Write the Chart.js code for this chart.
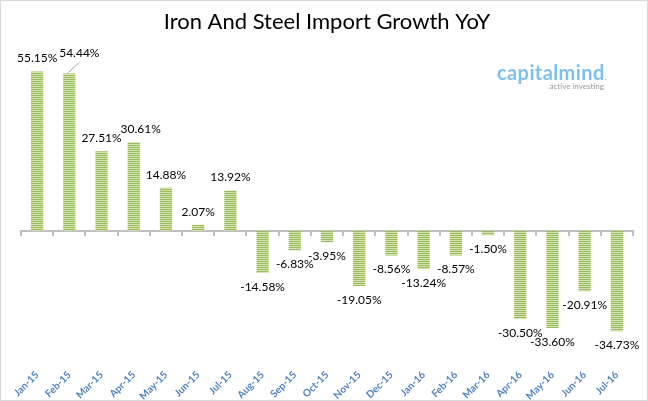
<!DOCTYPE html>
<html lang="en">
<head>
    <meta charset="UTF-8">
    <title>Iron And Steel Import Growth YoY</title>
    <script src="https://cdn.jsdelivr.net/npm/chart.js"></script>
    <style>
        body {
            margin: 0;
            background: #ffffff;
            font-family: 'Lato', sans-serif;
        }

        .chart-box {
            position: relative;
            width: 648px;
            height: 401px;
            box-sizing: border-box;
            border: 1px solid #d9d9d9;
        }

        /* logo in the upper right */
        .logo {
            position: absolute;
            right: 40px;
            top: 61px;
            text-align: right;
            line-height: 1;
        }
        .logo .name {
            font-size: 20px;
            font-weight: bold;
            color: #7fc0f0;
            letter-spacing: 0.4px;
        }
        .logo .name span { color: #9bbb59; font-size: 8px; }
        .logo .tag {
            font-size: 8px;
            color: #9a9a9a;
            margin-right: 3px;
        }
    </style>
</head>
<body>
    <div class="chart-box">
        <canvas id="importChart" width="646" height="399"></canvas>
        <div class="logo">
            <div class="name">capitalmind<span>.</span></div>
            <div class="tag">active investing</div>
        </div>
    </div>

    <script>
        // Months and YoY growth (%)
        const months = ['Jan-15', 'Feb-15', 'Mar-15', 'Apr-15', 'May-15', 'Jun-15', 'Jul-15',
                        'Aug-15', 'Sep-15', 'Oct-15', 'Nov-15', 'Dec-15', 'Jan-16', 'Feb-16',
                        'Mar-16', 'Apr-16', 'May-16', 'Jun-16', 'Jul-16'];
        const growth = [55.15, 54.44, 27.51, 30.61, 14.88, 2.07, 13.92,
                        -14.58, -6.83, -3.95, -19.05, -8.56, -13.24, -8.57,
                        -1.50, -30.50, -33.60, -20.91, -34.73];

        // striped fill like the original bars
        const pc = document.createElement('canvas');
        pc.width = 2;
        pc.height = 2;
        const pctx = pc.getContext('2d');
        pctx.fillStyle = '#d5e4b6';
        pctx.fillRect(0, 0, 2, 2);
        pctx.fillStyle = '#9bbb59';
        pctx.fillRect(0, 0, 2, 1);

        const ctx = document.getElementById('importChart').getContext('2d');
        const stripes = ctx.createPattern(pc, 'repeat');

        // value labels above / below each bar
        const barLabels = {
            id: 'barLabels',
            afterDatasetsDraw(chart, args, opts) {
                const c = chart.ctx;
                const meta = chart.getDatasetMeta(0);
                c.save();
                c.font = '12px Lato';
                c.fillStyle = '#000000';
                c.textAlign = 'center';
                c.textBaseline = 'middle';
                meta.data.forEach((bar, i) => {
                    const v = growth[i];
                    const s = opts.shift[i] || { dx: 0, dy: 0 };
                    const y = (v >= 0 ? bar.y - 13 : bar.y + 14) + s.dy;
                    c.fillText(v.toFixed(2) + '%', bar.x + s.dx, y);
                    if (s.line) {
                        // leader line to a moved label
                        c.strokeStyle = '#a6a6a6';
                        c.lineWidth = 1;
                        c.beginPath();
                        c.moveTo(bar.x - 2, bar.y);
                        c.lineTo(bar.x + s.dx, bar.y - 11);
                        c.stroke();
                    }
                });
                c.restore();
            }
        };

        new Chart(ctx, {
            type: 'bar',
            data: {
                labels: months,
                datasets: [{
                    data: growth,
                    backgroundColor: stripes,
                    borderWidth: 0,
                    barPercentage: 0.38,
                    categoryPercentage: 1
                }]
            },
            options: {
                responsive: false,
                animation: false,
                layout: {
                    padding: { left: 20, right: 14, top: 0, bottom: 0 }
                },
                scales: {
                    x: {
                        grid: { display: false },
                        border: { display: false },
                        ticks: {
                            color: '#4f81bd',
                            font: { family: 'Lato', size: 10, weight: 'bold' },
                            minRotation: 45,
                            maxRotation: 45,
                            padding: 3
                        },
                        afterFit(scale) { scale.height = 42; }
                    },
                    zero: {
                        type: 'category',
                        axis: 'x',
                        position: { y: 0 },
                        grid: {
                            offset: true,
                            drawOnChartArea: false,
                            drawTicks: true,
                            tickLength: 4,
                            color: '#bfbfbf',
                            lineWidth: 2
                        },
                        border: { display: true, color: '#bfbfbf', width: 2 },
                        ticks: { display: false }
                    },
                    y: {
                        display: false,
                        min: -44,
                        max: 60
                    }
                },
                plugins: {
                    legend: { display: false },
                    tooltip: { enabled: false },
                    title: {
                        display: true,
                        text: 'Iron And Steel Import Growth YoY',
                        color: '#000000',
                        font: { family: 'Lato', size: 22, weight: 'normal' },
                        padding: { top: 8, bottom: 22 }
                    },
                    barLabels: {
                        shift: { 1: { dx: 10, dy: -7, line: true }, 3: { dx: 7, dy: 0 } }
                    }
                }
            },
            plugins: [barLabels]
        });
    </script>
</body>
</html>
